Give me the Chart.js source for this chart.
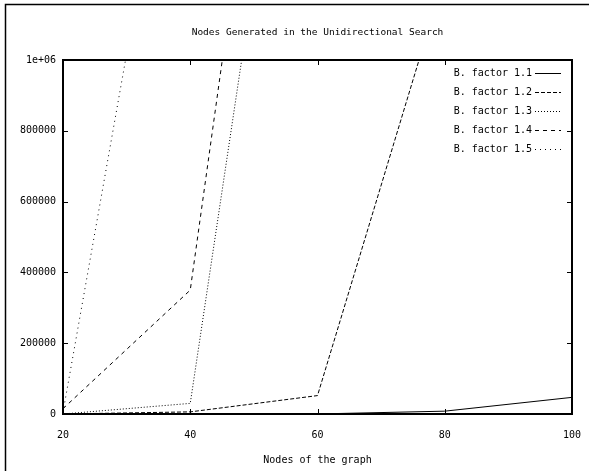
<!DOCTYPE html>
<html>
<head>
<meta charset="utf-8">
<script src="https://cdn.jsdelivr.net/npm/chart.js@4.4.0/dist/chart.umd.min.js"></script>
<style>
  html, body { margin: 0; padding: 0; background: #fff; }
  #wrap { width: 589px; height: 471px; }
</style>
</head>
<body>
<div id="wrap"><canvas id="chart" width="589" height="471"></canvas></div>
<script>
// values (lines leave the top of the plot, so last points are off-scale)
const nodes = [20, 40, 60, 80, 100];
const bf11 = [0, 0, 100, 8000, 47000];
const bf12 = [0, 6000, 52000, 1240000, null];
const bf13 = [0, 30000, 2430000, null, null];
const bf14 = [15000, 350000, 2930000, null, null];
const bf15 = [5000, 2030000, null, null, null];

const labels = ['B. factor 1.1', 'B. factor 1.2', 'B. factor 1.3', 'B. factor 1.4', 'B. factor 1.5'];
const dashes = [[], [4, 2], [1, 2], [4, 4], [1, 4]];
const yTicks = [0, 200000, 400000, 600000, 800000, 1000000];

const FONT = '"DejaVu Sans Mono", monospace';

function toPoints(vals) {
  return nodes.map((n, i) => ({ x: n, y: vals[i] }));
}

const series = [bf11, bf12, bf13, bf14, bf15];

// white page with the frame at top/left, like the screenshot crop
const pagePlugin = {
  id: 'page',
  beforeDraw(c) {
    let ctx = c.ctx;
    ctx.save();
    ctx.fillStyle = '#fff';
    ctx.fillRect(0, 0, c.width, c.height);
    ctx.strokeStyle = '#000';
    ctx.lineWidth = 1.5;
    ctx.strokeRect(5.5, 4.5, 1000, 1000);
    ctx.restore();
  }
};

// gnuplot style box with inward ticks on all four sides
const framePlugin = {
  id: 'frame',
  afterDatasetsDraw(c) {
    let ctx = c.ctx;
    let a = c.chartArea;
    let xs = c.scales.x, ys = c.scales.y;
    ctx.save();
    ctx.strokeStyle = '#000';
    ctx.lineWidth = 1;
    ctx.beginPath();
    xs.ticks.forEach(t => {
      let px = Math.round(xs.getPixelForValue(t.value)) + 0.5;
      ctx.moveTo(px, a.bottom); ctx.lineTo(px, a.bottom - 5);
      ctx.moveTo(px, a.top); ctx.lineTo(px, a.top + 5);
    });
    ys.ticks.forEach(t => {
      let py = Math.round(ys.getPixelForValue(t.value)) + 0.5;
      ctx.moveTo(a.left, py); ctx.lineTo(a.left + 5, py);
      ctx.moveTo(a.right, py); ctx.lineTo(a.right - 5, py);
    });
    ctx.stroke();
    ctx.lineWidth = 2;
    ctx.strokeRect(a.left, a.top, a.right - a.left, a.bottom - a.top);
    ctx.restore();
  }
};

// key in the top right corner: text right-aligned, line sample after it
const keyPlugin = {
  id: 'key',
  afterDatasetsDraw(c) {
    let ctx = c.ctx;
    let a = c.chartArea;
    ctx.save();
    ctx.font = '10px ' + FONT;
    ctx.fillStyle = '#000';
    ctx.textAlign = 'right';
    ctx.textBaseline = 'middle';
    c.data.datasets.forEach((ds, i) => {
      let y = a.top + 13 + i * 19;
      ctx.fillText(ds.label, a.right - 40, y);
      ctx.strokeStyle = '#000';
      ctx.lineWidth = 1;
      ctx.setLineDash(ds.borderDash);
      ctx.beginPath();
      ctx.moveTo(a.right - 37, Math.round(y) + 0.5);
      ctx.lineTo(a.right - 11, Math.round(y) + 0.5);
      ctx.stroke();
    });
    ctx.restore();
  }
};

new Chart(document.getElementById('chart'), {
  type: 'line',
  data: {
    datasets: series.map((s, i) => ({
      label: labels[i],
      data: toPoints(s),
      borderColor: '#000',
      borderWidth: 1,
      borderDash: dashes[i],
      pointRadius: 0,
      fill: false,
      tension: 0,
      spanGaps: false
    }))
  },
  plugins: [pagePlugin, framePlugin, keyPlugin],
  options: {
    responsive: false,
    animation: false,
    layout: { padding: { left: 0, right: 17, top: 0, bottom: 0 } },
    plugins: {
      legend: { display: false },
      tooltip: { enabled: false },
      title: {
        display: true,
        fullSize: false,
        text: 'Nodes Generated in the Unidirectional Search',
        color: '#000',
        font: { family: FONT, size: 9.5, weight: 'normal', lineHeight: 1.2 },
        padding: { top: 27, bottom: 21.6 }
      }
    },
    scales: {
      x: {
        type: 'linear',
        min: 20, max: 100,
        afterFit: s => { s.height = 57; s.paddingLeft = 0; s.paddingRight = 0; },
        ticks: { stepSize: 20, color: '#000', padding: 15, maxRotation: 0,
                 font: { family: FONT, size: 10 } },
        grid: { display: false, drawTicks: false },
        border: { display: false },
        title: { display: true, text: 'Nodes of the graph', color: '#000',
                 font: { family: FONT, size: 10 }, padding: { top: 0, bottom: 5 } }
      },
      y: {
        type: 'linear',
        min: 0, max: 1000000,
        afterFit: s => { s.width = 63; s.paddingTop = 0; s.paddingBottom = 0; },
        afterBuildTicks: s => { s.ticks = yTicks.map(v => ({ value: v })); },
        ticks: { color: '#000', padding: 7,
                 font: { family: FONT, size: 10 },
                 callback: v => v === 1000000 ? '1e+06' : String(v) },
        grid: { display: false, drawTicks: false },
        border: { display: false }
      }
    }
  }
});
</script>
</body>
</html>
